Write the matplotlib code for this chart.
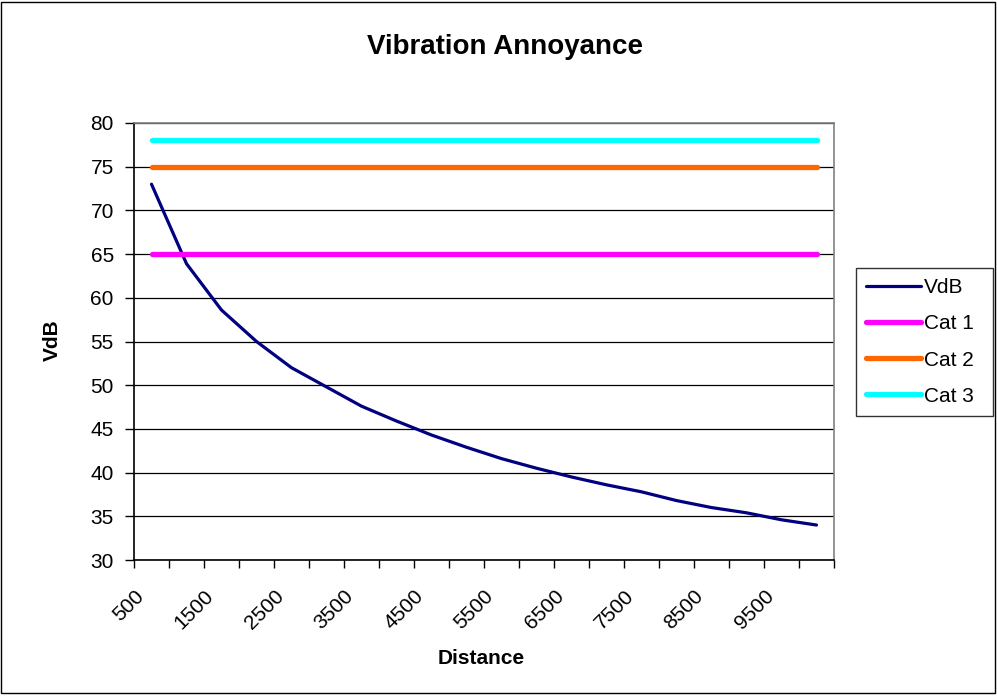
import matplotlib
matplotlib.use("Agg")
import matplotlib.pyplot as plt
from matplotlib.patches import Rectangle

plt.rcParams['font.family'] = ['Liberation Sans', 'DejaVu Sans']

# Datos
distancias = [500, 1000, 1500, 2000, 2500, 3000, 3500, 4000, 4500, 5000,
              5500, 6000, 6500, 7000, 7500, 8000, 8500, 9000, 9500, 10000]
vdb = [73.0, 63.9, 58.6, 55.0, 52.0, 49.8, 47.6, 45.9, 44.3, 42.9,
       41.6, 40.5, 39.5, 38.6, 37.8, 36.8, 36.0, 35.4, 34.6, 34.0]
cat1 = [65] * len(distancias)
cat2 = [75] * len(distancias)
cat3 = [78] * len(distancias)

fig = plt.figure(figsize=(9.97, 6.96), dpi=100)
ax = fig.add_axes([134/997, 1 - 560/696, 700/997, 437/696])

x = list(range(len(distancias)))
ax.plot(x, vdb, color="#000080", lw=2.3, label="VdB", solid_capstyle="round")
ax.plot(x, cat1, color="#FF00FF", lw=3.8, label="Cat 1", solid_capstyle="round")
ax.plot(x, cat2, color="#FF6600", lw=3.8, label="Cat 2", solid_capstyle="round")
ax.plot(x, cat3, color="#00FFFF", lw=3.8, label="Cat 3", solid_capstyle="round")

#Ejes
ax.set_xlim(-0.5, len(distancias) - 0.5)
ax.set_ylim(30, 80)
ax.set_yticks(range(30, 81, 5))
ax.yaxis.grid(True, color="black", lw=0.9)
ax.set_axisbelow(True)

ticks = [i - 0.5 for i in range(len(distancias) + 1)]
etiquetas = [str(distancias[i]) if (i < len(distancias) and i % 2 == 0) else "" for i in range(len(ticks))]
ax.set_xticks(ticks)
ax.set_xticklabels(etiquetas, rotation=45, ha="right", rotation_mode="anchor", fontsize=15)
ax.tick_params(axis="x", length=6, width=1, pad=13)
ax.tick_params(axis="y", length=6.5, width=1, labelsize=15, pad=8)

for s in ["left", "bottom"]:
    ax.spines[s].set_color("black")
    ax.spines[s].set_linewidth(1.2)
for s in ["top", "right"]:
    ax.spines[s].set_color("#808080")
    ax.spines[s].set_linewidth(1.2)

fig.text(52/997, 1 - 340/696, "VdB", fontsize=15, fontweight="bold", rotation=90,
         ha="center", va="center")
fig.text(481/997, 1 - 658/696, "Distance", fontsize=15, fontweight="bold",
         ha="center", va="center")
fig.text(505/997, 1 - 47/696, "Vibration Annoyance", fontsize=20, fontweight="bold",
         ha="center", va="center")

leg = fig.legend(loc="upper left",
                 bbox_to_anchor=(856/997, 1 - 414/696, 137/997, 146/696),
                 mode="expand", fontsize=15, frameon=True, fancybox=False,
                 edgecolor="black", handlelength=2.6, handletextpad=0.15,
                 labelspacing=0.82, borderpad=0.5, borderaxespad=0)
leg.get_frame().set_linewidth(1)

fig.patches.append(Rectangle((0.0015, 0.005), 0.996, 0.992, transform=fig.transFigure,
                             fill=False, ec="black", lw=1))

plt.savefig("out.png", dpi=100)
